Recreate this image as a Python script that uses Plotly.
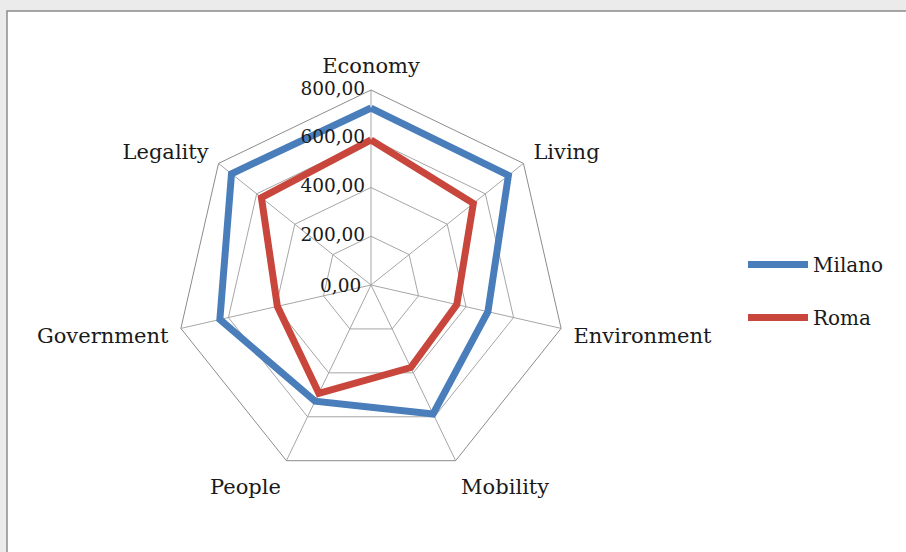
import plotly.graph_objects as go

# Smart-city index by dimension
categories = ["Economy", "Living", "Environment", "Mobility", "People", "Government", "Legality"]
milano = [726, 721, 492, 587, 529, 636, 732]
roma = [595, 537, 361, 376, 493, 394, 575]
radial_ticks = [0, 200, 400, 600, 800]
radial_tick_labels = ["0,00", "200,00", "400,00", "600,00", "800,00"]

W, H = 906, 552
FONT = "DejaVu Serif"
cx, cy, R = 371, 285, 195  # polar centre and outer radius, in pixels

fig = go.Figure()

for name, vals, color in [("Milano", milano, "#4a7ebb"), ("Roma", roma, "#c9463d")]:
    fig.add_trace(go.Scatterpolar(
        r=vals + vals[:1],
        theta=categories + categories[:1],
        mode="lines",
        name=name,
        legendgroup=name,
        line=dict(color=color, width=7),
    ))

# radial value labels, set to the left of the Economy spoke
fig.add_trace(go.Scatterpolar(
    r=radial_ticks[1:],
    theta=[categories[0]] * (len(radial_ticks) - 1),
    mode="text",
    text=[s + " " for s in radial_tick_labels[1:]],
    textposition="middle left",
    textfont=dict(family=FONT, size=18.5, color="#1a1a1a"),
    showlegend=False,
    hoverinfo="skip",
))
# the centre label (the trace drops points lying on the range minimum)
fig.add_annotation(x=(cx - 8) / W, y=1 - cy / H, xref="paper", yref="paper",
                   text=radial_tick_labels[0], showarrow=False,
                   xanchor="right", yanchor="middle",
                   font=dict(family=FONT, size=18.5, color="#1a1a1a"))

# chart frame on the grey page
fig.add_shape(type="rect", xref="paper", yref="paper",
              x0=7 / W, x1=1.02, y0=-0.02, y1=1 - 11 / H,
              line=dict(color="#8c8c8c", width=1.5), fillcolor="white", layer="below")

fig.update_layout(
    width=W, height=H,
    margin=dict(l=0, r=0, t=0, b=0),
    paper_bgcolor="#ebebeb",
    font=dict(family=FONT, size=21, color="#1a1a1a"),
    showlegend=True,
    legend=dict(x=743 / W, y=1 - 245 / H, xanchor="left", yanchor="top",
                bgcolor="rgba(0,0,0,0)", font=dict(family=FONT, size=20),
                traceorder="grouped", tracegroupgap=24, itemwidth=60),
    polar=dict(
        domain=dict(x=[(cx - R) / W, (cx + R) / W],
                    y=[(H - cy - R) / H, (H - cy + R) / H]),
        bgcolor="rgba(0,0,0,0)",
        gridshape="linear",
        radialaxis=dict(
            range=[0, 800], tickvals=radial_ticks, showticklabels=False,
            angle=90, showline=False, ticks="", gridcolor="#a6a6a6", gridwidth=1,
        ),
        angularaxis=dict(
            direction="clockwise", rotation=90,
            showline=True, linecolor="#8c8c8c", linewidth=1,
            gridcolor="#a6a6a6", gridwidth=1,
            ticks="outside", ticklen=8, tickcolor="rgba(0,0,0,0)",
            tickfont=dict(family=FONT, size=21, color="#1a1a1a"),
        ),
    ),
)

fig.write_html("out.html")
